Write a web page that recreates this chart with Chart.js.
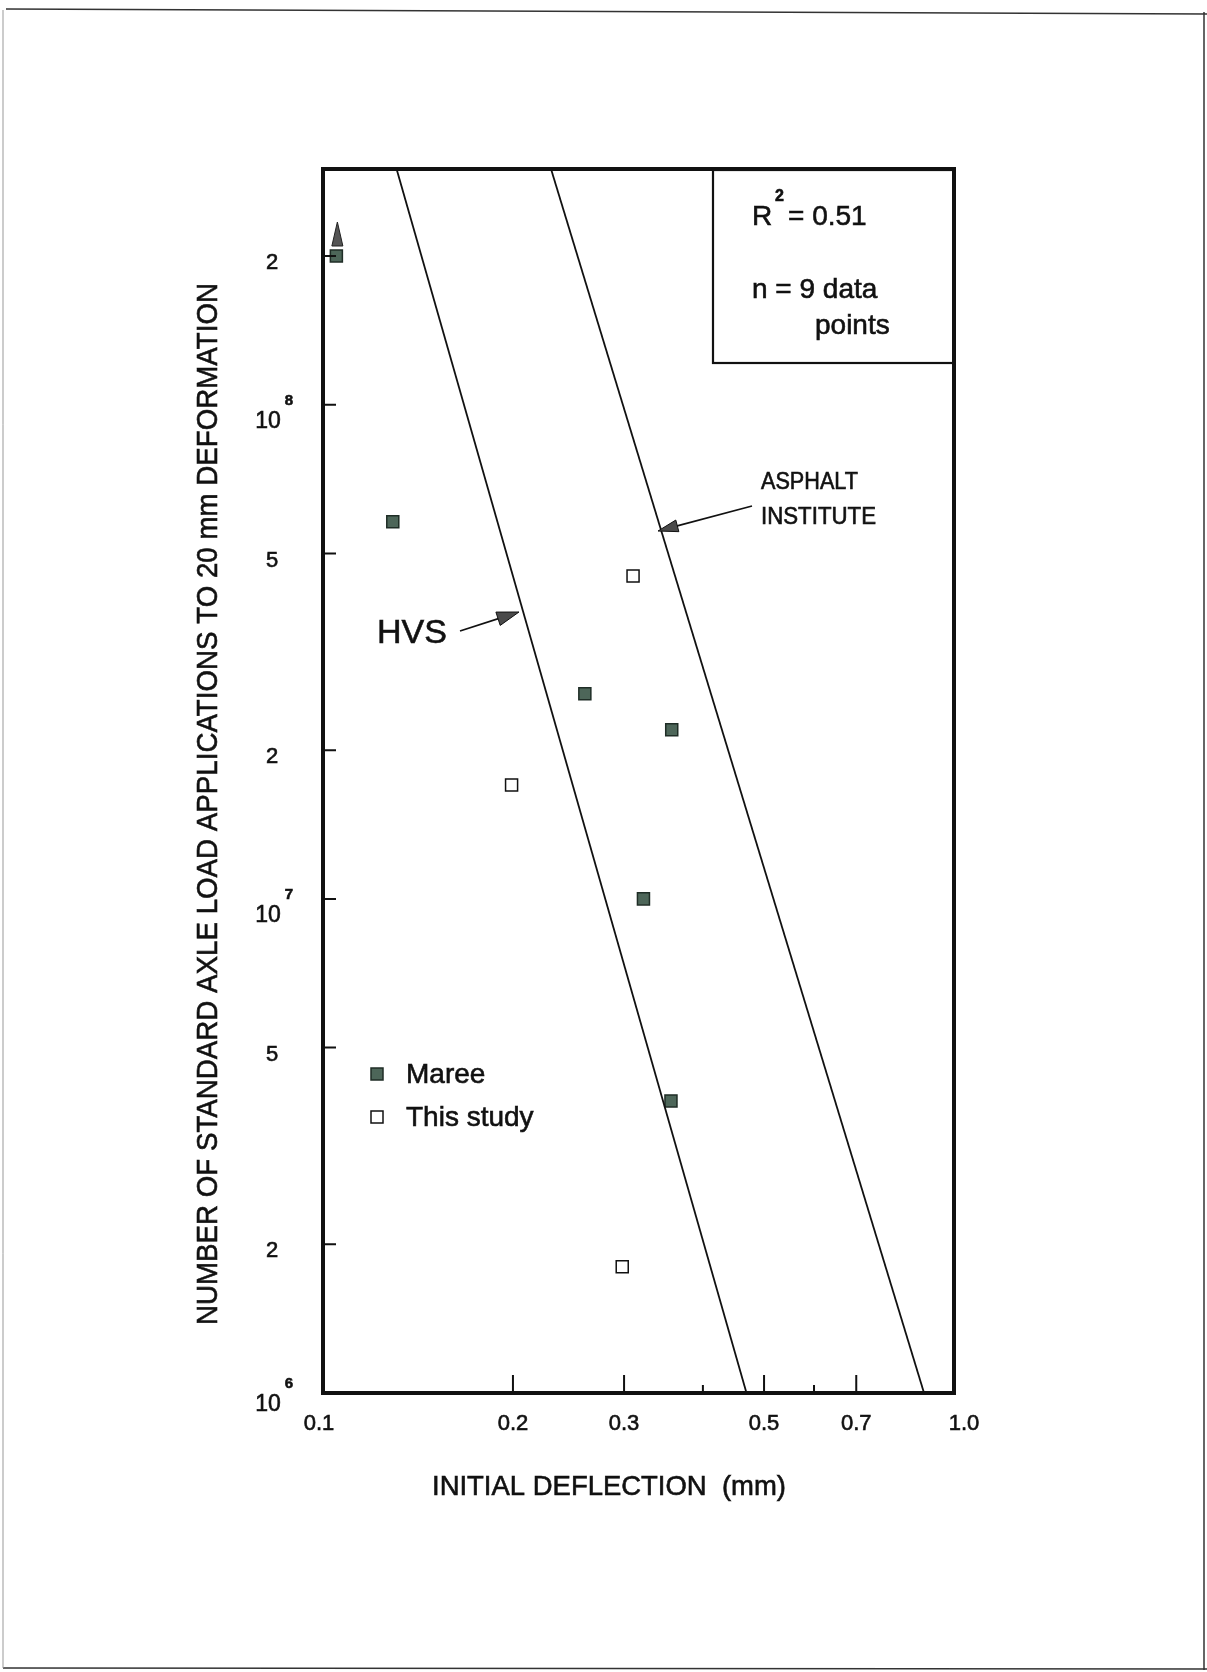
<!DOCTYPE html>
<html>
<head>
<meta charset="utf-8">
<script src="https://cdn.jsdelivr.net/npm/chart.js@4.4.0/dist/chart.umd.min.js"></script>
<style>
  html, body { margin: 0; padding: 0; background: #fff; }
  #wrap { width: 1207px; height: 1672px; }
</style>
</head>
<body>
<div id="wrap"><canvas id="chart" width="1207" height="1672"></canvas></div>
<script>
// initial deflection (mm) against load applications to 20 mm deformation
const mareeDeflection = [0.105, 0.129, 0.26, 0.357, 0.322, 0.356];
const mareeApplications = [2.0e8, 5.8e7, 2.6e7, 2.2e7, 1.0e7, 3.9e6];
const studyDeflection = [0.31, 0.199, 0.298];
const studyApplications = [4.5e7, 1.7e7, 1.8e6];

// design criteria, ends at top and bottom of the plot
const hvsDeflection = [0.1308, 0.469];
const hvsApplications = [3.0e8, 1.0e6];
const asphaltDeflection = [0.2298, 0.8965];
const asphaltApplications = [3.0e8, 1.0e6];

const xMajorTicks = [0.2, 0.3, 0.5, 0.7];
const xMinorTicks = [0.4, 0.6];
const xLabelValues = [0.1, 0.2, 0.3, 0.5, 0.7, 1.0];
const xLabels = ['0.1', '0.2', '0.3', '0.5', '0.7', '1.0'];
const yTicks = [2e6, 5e6, 1e7, 2e7, 5e7, 1e8, 2e8];
const yLabelValues = [1e6, 2e6, 5e6, 1e7, 2e7, 5e7, 1e8, 2e8];
const yLabelBase = ['10', '2', '5', '10', '2', '5', '10', '2'];
const yLabelExp = ['6', '', '', '7', '', '', '8', ''];

const FONT = "'Liberation Sans', Arial, Helvetica, sans-serif";
const INK = '#111';

function toPoints(xs, ys) {
    return xs.map((x, i) => ({ x: x, y: ys[i] }));
}

// scanned text looks a little heavier than plain regular weight
function txt(ctx, s, x, y, maxW) {
    ctx.fillStyle = INK;
    ctx.strokeStyle = INK;
    ctx.lineWidth = 0.6;
    if (maxW) {
        ctx.fillText(s, x, y, maxW);
        ctx.strokeText(s, x, y, maxW);
    } else {
        ctx.fillText(s, x, y);
        ctx.strokeText(s, x, y);
    }
}

function arrow(ctx, x1, y1, x2, y2, len, half) {
    const a = Math.atan2(y2 - y1, x2 - x1);
    ctx.beginPath();
    ctx.moveTo(x1, y1);
    ctx.lineTo(x2 - Math.cos(a) * len * 0.8, y2 - Math.sin(a) * len * 0.8);
    ctx.strokeStyle = INK;
    ctx.lineWidth = 1.7;
    ctx.stroke();
    ctx.beginPath();
    ctx.moveTo(x2, y2);
    ctx.lineTo(x2 - Math.cos(a) * len - Math.sin(a) * half, y2 - Math.sin(a) * len + Math.cos(a) * half);
    ctx.lineTo(x2 - Math.cos(a) * len + Math.sin(a) * half, y2 - Math.sin(a) * len - Math.cos(a) * half);
    ctx.closePath();
    ctx.fillStyle = '#4a4a4a';
    ctx.fill();
    ctx.lineWidth = 1;
    ctx.stroke();
}

const pageBorder = {
    id: 'pageBorder',
    beforeDraw(chart) {
        const ctx = chart.ctx;
        ctx.save();
        ctx.fillStyle = '#fff';
        ctx.fillRect(0, 0, chart.width, chart.height);
        ctx.strokeStyle = '#333';
        ctx.lineWidth = 1.5;
        ctx.beginPath();
        ctx.moveTo(6, 9); ctx.lineTo(1207, 14);
        ctx.moveTo(1204, 12); ctx.lineTo(1204, 1670);
        ctx.moveTo(3, 1668); ctx.lineTo(1207, 1669);
        ctx.stroke();
        ctx.strokeStyle = '#999';
        ctx.lineWidth = 1;
        ctx.beginPath();
        ctx.moveTo(3, 10); ctx.lineTo(3, 1668);
        ctx.stroke();
        ctx.restore();
    }
};

const frame = {
    id: 'frame',
    afterDatasetsDraw(chart) {
        const ctx = chart.ctx;
        const a = chart.chartArea;
        const xs = chart.scales.x;
        const ys = chart.scales.y;
        ctx.save();

        // ticks pointing inwards
        ctx.strokeStyle = INK;
        ctx.lineWidth = 2;
        ctx.beginPath();
        xMajorTicks.forEach(v => {
            const px = xs.getPixelForValue(v);
            ctx.moveTo(px, a.bottom); ctx.lineTo(px, a.bottom - 18);
        });
        xMinorTicks.forEach(v => {
            const px = xs.getPixelForValue(v);
            ctx.moveTo(px, a.bottom); ctx.lineTo(px, a.bottom - 8);
        });
        yTicks.forEach(v => {
            const py = ys.getPixelForValue(v);
            ctx.moveTo(a.left, py); ctx.lineTo(a.left + 13, py);
        });
        ctx.stroke();

        // axis frame
        ctx.lineWidth = 4;
        ctx.strokeRect(a.left, a.top, a.right - a.left, a.bottom - a.top);

        // tick labels
        ctx.textAlign = 'center';
        ctx.textBaseline = 'middle';
        ctx.font = '22px ' + FONT;
        xLabelValues.forEach((v, i) => {
            let px = xs.getPixelForValue(v);
            if (i === 0) px -= 4;
            if (i === xLabelValues.length - 1) px += 10;
            txt(ctx, xLabels[i], px, a.bottom + 31);
        });
        yLabelValues.forEach((v, i) => {
            const py = ys.getPixelForValue(v);
            if (yLabelExp[i]) {
                const off = i === 0 ? 12 : 17;
                ctx.font = '23px ' + FONT;
                txt(ctx, yLabelBase[i], a.left - 55, py + off);
                ctx.font = 'bold 15px ' + FONT;
                txt(ctx, yLabelExp[i], a.left - 34, py + off - 21);
            } else {
                ctx.font = '22px ' + FONT;
                txt(ctx, yLabelBase[i], a.left - 51, py + 7);
            }
        });

        // axis titles
        ctx.font = '28px ' + FONT;
        txt(ctx, 'INITIAL DEFLECTION  (mm)', 609, 1487, 354);
        ctx.save();
        ctx.translate(209, 804);
        ctx.rotate(-Math.PI / 2);
        ctx.font = '30px ' + FONT;
        txt(ctx, 'NUMBER OF STANDARD AXLE LOAD APPLICATIONS TO 20 mm DEFORMATION', 0, 0, 1042);
        ctx.restore();

        // statistics box
        ctx.strokeStyle = INK;
        ctx.lineWidth = 2.2;
        ctx.strokeRect(713, a.top + 1, a.right - 713, 193);
        ctx.textAlign = 'left';
        ctx.textBaseline = 'alphabetic';
        ctx.font = '28px ' + FONT;
        txt(ctx, 'R', 752, 225);
        txt(ctx, '= 0.51', 788, 225);
        ctx.font = 'bold 16px ' + FONT;
        txt(ctx, '2', 775, 201);
        ctx.font = '28px ' + FONT;
        txt(ctx, 'n = 9 data', 752, 298);
        txt(ctx, 'points', 815, 334);

        // line labels
        ctx.font = '23px ' + FONT;
        txt(ctx, 'ASPHALT', 761, 489, 97);
        txt(ctx, 'INSTITUTE', 761, 524, 115);
        arrow(ctx, 752, 506, 658, 531, 20, 6);
        ctx.font = '34px ' + FONT;
        txt(ctx, 'HVS', 377, 643);
        arrow(ctx, 460, 631, 519, 612, 22, 7);

        // off-scale arrow above the top Maree point
        const p = chart.getDatasetMeta(2).data[0];
        ctx.beginPath();
        ctx.moveTo(p.x + 1, p.y - 34);
        ctx.lineTo(p.x - 4.5, p.y - 10);
        ctx.lineTo(p.x + 6.5, p.y - 10);
        ctx.closePath();
        ctx.fillStyle = '#555';
        ctx.fill();
        ctx.strokeStyle = '#222';
        ctx.lineWidth = 1;
        ctx.stroke();

        // legend
        ctx.lineWidth = 1.5;
        ctx.fillStyle = '#4d6659';
        ctx.strokeStyle = '#1f2d26';
        ctx.fillRect(371, 1068, 12, 12);
        ctx.strokeRect(371, 1068, 12, 12);
        ctx.fillStyle = '#fff';
        ctx.strokeStyle = INK;
        ctx.fillRect(371, 1111, 12, 12);
        ctx.strokeRect(371, 1111, 12, 12);
        ctx.font = '28px ' + FONT;
        txt(ctx, 'Maree', 406, 1083);
        txt(ctx, 'This study', 406, 1126);

        ctx.restore();
    }
};

new Chart(document.getElementById('chart'), {
    type: 'scatter',
    data: {
        datasets: [
            {
                label: 'HVS',
                data: toPoints(hvsDeflection, hvsApplications),
                showLine: true,
                borderColor: INK,
                borderWidth: 1.8,
                pointRadius: 0
            },
            {
                label: 'Asphalt Institute',
                data: toPoints(asphaltDeflection, asphaltApplications),
                showLine: true,
                borderColor: INK,
                borderWidth: 1.8,
                pointRadius: 0
            },
            {
                label: 'Maree',
                data: toPoints(mareeDeflection, mareeApplications),
                pointStyle: 'rect',
                pointRadius: 8.5,
                backgroundColor: '#4d6659',
                borderColor: '#1f2d26',
                borderWidth: 1.5
            },
            {
                label: 'This study',
                data: toPoints(studyDeflection, studyApplications),
                pointStyle: 'rect',
                pointRadius: 8.5,
                backgroundColor: '#fff',
                borderColor: INK,
                borderWidth: 1.5
            }
        ]
    },
    options: {
        responsive: false,
        animation: false,
        layout: {
            padding: { left: 323, right: 253, top: 169, bottom: 279 }
        },
        plugins: {
            legend: { display: false },
            tooltip: { enabled: false }
        },
        scales: {
            x: { type: 'logarithmic', min: 0.1, max: 1.0, display: false },
            y: { type: 'logarithmic', min: 1e6, max: 3e8, display: false }
        }
    },
    plugins: [pageBorder, frame]
});
</script>
</body>
</html>
